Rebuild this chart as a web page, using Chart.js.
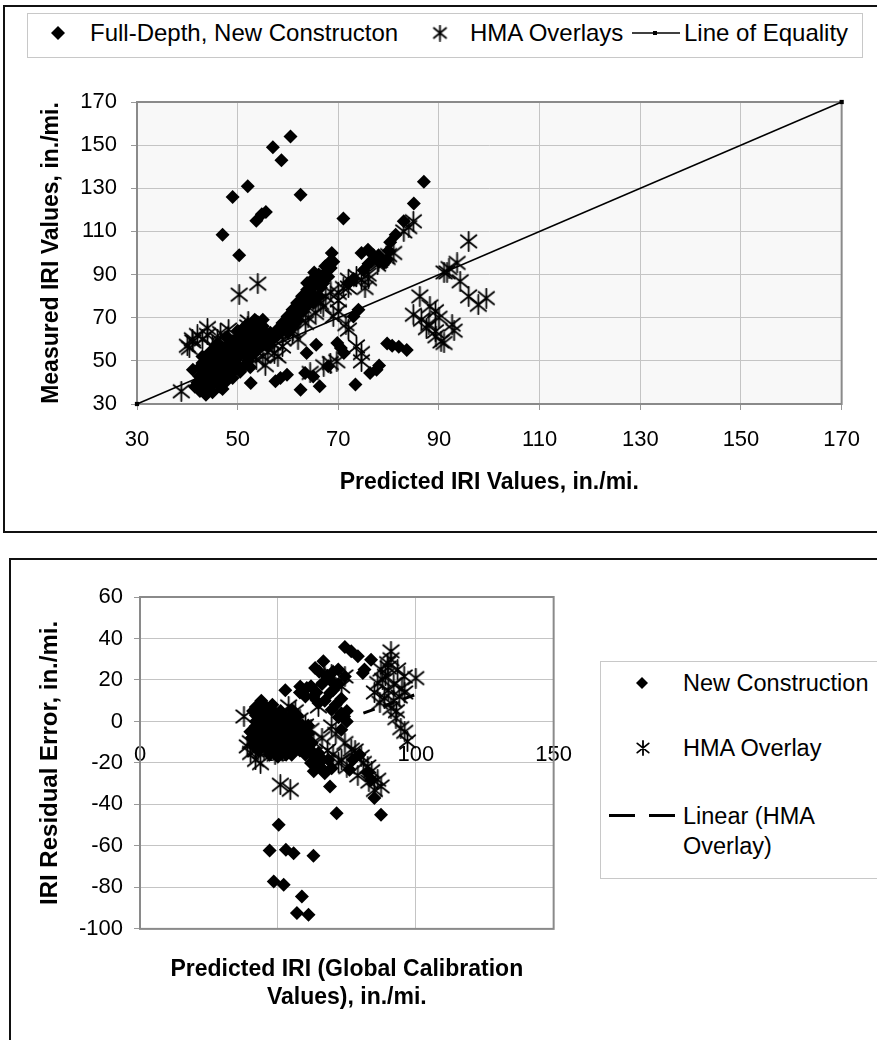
<!DOCTYPE html>
<html>
<head>
<meta charset="utf-8">
<script src="https://cdn.jsdelivr.net/npm/chart.js@4.4.0/dist/chart.umd.min.js"></script>
<style>
  body { margin:0; background:#fff; width:877px; height:1040px; position:relative; overflow:hidden;
         font-family:'Liberation Sans', Arial, sans-serif; }
  .frame { position:absolute; border:2px solid #111; box-sizing:border-box; }
  .legend { position:absolute; border:1px solid #c8c8c8; box-sizing:border-box; background:#fff; }
  .lg-text { position:absolute; font-size:24px; line-height:26px; white-space:nowrap; color:#000; }
  .lg-icon { position:absolute; }
  .wrap { position:absolute; }
</style>
</head>
<body>
<div class="frame" style="left:3px;top:5px;width:900px;height:528px"></div>
<div class="frame" style="left:9px;top:558px;width:900px;height:600px"></div>

<div class="legend" style="left:27px;top:13px;width:836px;height:45px"></div>
<canvas id="lgTop1" class="lg-icon" width="16" height="16" style="left:50px;top:25px"></canvas>
<span class="lg-text" style="left:90px;top:20px">Full-Depth, New Constructon</span>
<canvas id="lgTop2" class="lg-icon" width="18" height="18" style="left:431px;top:24px"></canvas>
<span class="lg-text" style="left:470px;top:20px">HMA Overlays</span>
<canvas id="lgTop3" class="lg-icon" width="48" height="10" style="left:632px;top:28px"></canvas>
<span class="lg-text" style="left:684px;top:20px">Line of Equality</span>

<div class="wrap" style="left:5px;top:60px;width:872px;height:470px"><canvas id="top"></canvas></div>

<div class="legend" style="left:600px;top:661px;width:290px;height:218px"></div>
<canvas id="lgBot1" class="lg-icon" width="16" height="16" style="left:634px;top:675px"></canvas>
<span class="lg-text" style="left:683px;top:670px;font-size:23.5px">New Construction</span>
<canvas id="lgBot2" class="lg-icon" width="18" height="18" style="left:634px;top:739px"></canvas>
<span class="lg-text" style="left:683px;top:735px;font-size:23.5px">HMA Overlay</span>
<canvas id="lgBot3" class="lg-icon" width="68" height="8" style="left:608px;top:812px"></canvas>
<span class="lg-text" style="left:683px;top:801px;font-size:23.5px;line-height:30px">Linear (HMA<br>Overlay)</span>

<div class="wrap" style="left:12px;top:561px;width:580px;height:479px"><canvas id="bottom"></canvas></div>

<script>
// top chart: measured vs predicted
const axisTicksTop = [30, 50, 70, 90, 110, 130, 150, 170];
const fullDepthPred = [60.5,57,58.7,52,49,62.5,54.8,55.6,53.7,47,50.3,71,68.7,87,85,83,81.4,80.3,75.9,74.6,77,78.1,79.1,79.7,
  68.1,67.4,66.1,65.2,64.8,63.8,63.8,62.8,61.8,60.9,59.9,58.9,57.9,64,65,66.5,62,61,74,73,79.7,80.7,82,83.6,73.4,76.3,77.6,78.1,
  71.1,69.8,70.5,65.6,63.7,63.4,65,66.3,62.5,68,52.6,57.5,59.8,58.5,43.7,45,46.3,47.6,42.4,41.1,43,45,46.9,48.8,50.8,52.7,53.4,
  54.7,50.2,48.3,55.3,54,44,45.5,47,49,51,52,44.5,46,48,50,51.5,53,55,56,44,46,48,42,50,52,53,49,47,45,51,55,56.5,57,43.5,47.5,
  49.5,52.5,45.5,41.5,
  42.5,43.5,44.5,45,46,46.5,47.5,48,48.5,49.5,50,50.5,51.5,52,53,53.5,54,54.5,55.5,56,43,44,45,46,47,48,49,50,51,52,53,54,55,
  44.5,45.5,46.5,47.5,48.5,49.5,50.5,51.5,52.5,42.5,43.5,
  58,59,60,60.5,61.5,62.5,63.5,64.5,65.5,66.5,67.5,68.5,69,60,61,62,63,64,65,66,67,68,72,73,75,76,78,80];
const fullDepthMeas = [154,149,143,131,126,127,118,119,115,108.5,99,116,100,133,123,114.7,108.5,105,101.5,100,99,96,95.4,97,
  95.4,93.8,90,91,87.6,86.1,83,80,76.8,73.7,70.6,67.6,64.5,78,80.5,84,72,70,73.7,70.6,58,57,56.5,55,39,44.4,45.9,47.8,
  53.6,58.3,56,57.5,53.6,44.4,42.8,38.2,36.6,47.5,39.7,40.5,43.6,42,34.3,39.7,41.3,42.8,42.8,45.9,49,52,55.2,58.3,61.4,64.5,69.1,
  64.5,52.1,47.5,58.3,55.2,45,48,50,53,56,58,54,58,61,64,66,62,61,57,38,44,46,40,48,50,53,42,37,35.5,60,66,63,60,41,52,
  56,55,45,38,
  47,44,47,43,47,50,46,49,52,50,55,58,53,61,58,60,63,58,63,60,52,50,55,53,56,55,59,61,63,67,66,68,69,
  40,42,38,40,44,46,45,48,47,36,38,
  62,65,68,71,74,77,80,83,86,89,91,93,96,63,66,69,73,76,77,80,86,89,86,88,92,95,99,101];
const hmaPred = [50.3,54,44,41.1,40.4,46.6,48.2,52.1,38.8,53.7,55,57.3,58.9,60.9,63.5,65.5,66.5,67.5,70,71,72,73.6,74.6,75.3,
  75.9,77.8,79.7,81,83,84.9,69,72,73.6,74.6,74.6,67.1,68.4,69.7,64.4,86.2,88.2,84.9,86.5,87.5,89.4,90.4,91,95.9,93.6,91.6,94.2,
  95.9,97.8,99.4,89.3,92.6,91,89.3,43,45,47.5,42,62,66,70,68.5,71.5,76,78,57,55.5,
  44,46,48,50,40,41,56,59,61,64,58,52,54,63,67,70,72,84,80,92,93,90,88];
const hmaMeas = [80.7,85.8,65.2,59,56,62.9,64.5,68.3,35.9,50.6,52.1,53.6,56.7,62.9,67.6,72.2,76.8,79.9,81.5,83.8,87.6,89.2,87.6,83.8,
  90,94.6,97.7,100,110,114.7,70.6,64.5,56.7,53.6,49.8,47.5,49,49.8,44.4,79.9,75.3,71.4,69.1,65.2,61.4,59,91,105.4,95.4,91,86.9,
  79.9,76,79.1,73,66.8,58.3,63.7,60,57,59,62,60,78,73,82,67,88,96,58,48,
  62,60,57,56,57,60,54,60,64,70,52,66,58,75,75,78,84,112,99,93,64,70,67];
const equalityX = [30, 170];
const equalityY = [30, 170];

// bottom chart: residual error vs predicted
const residTicksX = [0, 50, 100, 150];
const residTicksY = [-100, -80, -60, -40, -20, 0, 20, 40, 60];
const newConsPred = [74.3,76.6,79,81.4,83.8,80.8,66.5,63.5,65,67.7,69.5,71.9,74.3,52.7,58.1,60.5,62.9,64.7,68.9,69.5,74,44.3,43.1,
  45.5,47.9,50.3,52.7,55.1,45.5,41.9,49.1,52.7,55.1,57.5,59.9,62.3,64.7,68.3,64,66.5,69.5,76,77.2,79.6,82.6,83.8,85,87.4,71.3,68.9,
  50.3,47,52.9,55.7,62.9,48.5,52.1,58.7,56.9,61.1,46,47,44,42,48,50,51,53,54,56,58,60,61,57,49,46,44,51,53,55,40.5,43,47,50,53,
  72,70,73,75,72,
  41,42,43,44,45,46,47,48,49,50,51,52,53,54,55,56,57,58,59,60,61,62,63,42,44,46,48,50,52,54,56,58,40,41,43,45,47,49,51,60,62,66,67,63,65,
  58,60,62,64,66,68,70,67,71,73,75,73];
const newConsResid = [35.9,33.8,31.4,25,29.8,23.3,29,25.8,24,21.7,19.3,25,21.7,15,16.9,16.1,12.1,8.9,13.7,5.6,2.4,8.9,4.1,
  0.9,-2.3,-5.6,-8.8,-12,-5.6,-2.3,4.1,2.4,5.6,-0.9,-5.6,-10.4,-15.2,-18.5,-20.9,-23.3,-22.5,-23.3,-18.5,-16.1,-24.9,-28.1,-36.9,-45,-44.2,-31.3,
  -49.8,-62.2,-61.9,-63.5,-64.8,-77.1,-78.7,-84.4,-92.4,-93.2,2,-8,-3,3,0,2,-2,-4,0,2,-4,-8,-2,-8,-10,-12,-10,-14,-12,-16,-8,-14,-16,-17,-16,
  18,15,11,5,2,
  5,0,-6,6,3,-1,4,-5,1,-1,5,-6,1,-9,-3,-6,3,-10,-2,-12,-6,-14,-17,7,10,6,8,-9,-12,-14,-12,-14,-5,-11,-9,-9,-12,-13,-10,-16,-20,-18,-25,-24,-20,
  14,12,17,14,18,22,24,10,8,4,0,-4];
const hmaPred2 = [37.7,38.9,40.1,41.9,43.7,47.9,51.5,50.9,54.5,56.3,53.9,64.7,69.5,74.3,76.6,80.2,82.6,86.2,87.4,73.1,67,69.5,74.3,73.1,
  91,89.8,87.4,86.2,93.4,95.8,100,88.6,91,92.8,97,94.6,45,49,58,62,66,71,78,84,90,92,96,89,
  88,90,92,94,91,93,95,96,85,87,40,42,52,55,60,63,68,70,72,75,79,81,83,85];
const hmaResid = [2.4,-12,-15.2,-18.5,-20.1,-12,-13.6,-30.5,-32.9,4.9,7.3,7.3,-2.4,-10.4,-13.6,-16.9,-21.7,-28.1,-31.3,-18.5,21.7,22.5,21.7,16.9,
  33.8,28.1,25,18.5,25,21.7,20.9,11.3,6.4,1.6,-9.6,-3.2,-14,-16,1,-4,-8,-6,-14,-24,15,10,14,22,
  20,26,18,12,30,5,16,-5,14,9,-10,-14,-8,-6,-2,-10,-14,-16,-20,-22,-26,-20,-29,-33];
const trendX = [81, 100];
const trendY = [4, 13];

const pts = (xs, ys) => xs.map((x, i) => ({x: x, y: ys[i]}));

function asteriskImg(size, lw) {
  const c = document.createElement('canvas');
  c.width = c.height = size;
  const g = c.getContext('2d');
  const m = size / 2, r = size / 2 - 1;
  g.strokeStyle = '#000';
  g.lineWidth = lw;
  g.lineCap = 'round';
  g.beginPath();
  g.moveTo(m, m - r); g.lineTo(m, m + r);
  g.moveTo(m - r * 0.82, m - r * 0.66); g.lineTo(m + r * 0.82, m + r * 0.66);
  g.moveTo(m - r * 0.82, m + r * 0.66); g.lineTo(m + r * 0.82, m - r * 0.66);
  g.stroke();
  return c;
}

function drawDiamond(id, r) {
  const c = document.getElementById(id), g = c.getContext('2d');
  const m = c.width / 2;
  g.fillStyle = '#000';
  g.beginPath();
  g.moveTo(m, m - r); g.lineTo(m + r, m); g.lineTo(m, m + r); g.lineTo(m - r, m);
  g.closePath(); g.fill();
}
function drawAsteriskIcon(id, size) {
  const c = document.getElementById(id), g = c.getContext('2d');
  const img = asteriskImg(size, 1.8);
  g.drawImage(img, (c.width - size) / 2, (c.height - size) / 2);
}

drawDiamond('lgTop1', 7);
drawAsteriskIcon('lgTop2', 17);
(function () {
  const g = document.getElementById('lgTop3').getContext('2d');
  g.strokeStyle = '#000'; g.lineWidth = 1.5;
  g.beginPath(); g.moveTo(0, 5); g.lineTo(48, 5); g.stroke();
  g.fillStyle = '#000'; g.fillRect(21, 3, 4, 4);
})();
drawDiamond('lgBot1', 6);
drawAsteriskIcon('lgBot2', 16);
(function () {
  const g = document.getElementById('lgBot3').getContext('2d');
  g.fillStyle = '#000';
  g.fillRect(1, 2, 26, 3);
  g.fillRect(41, 2, 26, 3);
})();

const plotFrame = {
  id: 'plotFrame',
  beforeDraw(chart, args, opts) {
    const a = chart.chartArea, ctx = chart.ctx;
    ctx.save();
    ctx.fillStyle = opts.bg;
    ctx.fillRect(a.left, a.top, a.right - a.left, a.bottom - a.top);
    ctx.restore();
  },
  beforeDatasetsDraw(chart, args, opts) {
    const a = chart.chartArea, ctx = chart.ctx;
    ctx.save();
    ctx.strokeStyle = opts.color;
    ctx.lineWidth = 2;
    ctx.strokeRect(a.left, a.top, a.right - a.left, a.bottom - a.top);
    ctx.restore();
  }
};

const tickFont = {family: "'Liberation Sans', Arial, sans-serif", size: 22};
const titleFont = {family: "'Liberation Sans', Arial, sans-serif", size: 23, weight: 'bold'};

new Chart(document.getElementById('top'), {
  type: 'scatter',
  data: {
    datasets: [
      {
        type: 'line', label: 'Line of Equality', data: pts(equalityX, equalityY),
        borderColor: '#000', borderWidth: 1.5, pointStyle: 'rect', pointRadius: 3,
        pointBackgroundColor: '#000', pointBorderWidth: 0, clip: false, order: 0
      },
      {
        label: 'HMA Overlays', data: pts(hmaPred, hmaMeas),
        pointStyle: asteriskImg(21, 1.8), order: 1
      },
      {
        label: 'Full-Depth, New Constructon', data: pts(fullDepthPred, fullDepthMeas),
        pointStyle: 'rectRot', pointRadius: 7, backgroundColor: '#000', borderColor: '#000',
        borderWidth: 0, order: 2
      }
    ]
  },
  options: {
    responsive: true, maintainAspectRatio: false, animation: false,
    layout: {padding: {top: 42, right: 32, bottom: 0, left: 0}},
    plugins: {
      legend: {display: false}, tooltip: {enabled: false},
      plotFrame: {bg: '#f8f8f8', color: '#8a8a8a'}
    },
    scales: {
      x: {
        type: 'linear', min: 30, max: 170,
        afterBuildTicks: s => { s.ticks = axisTicksTop.map(v => ({value: v})); },
        afterFit: s => { s.height = 126; },
        grid: {color: '#c4c4c4', tickColor: '#999', tickLength: 6},
        border: {display: false},
        ticks: {font: tickFont, color: '#000', padding: 17, maxRotation: 0},
        title: {display: true, text: 'Predicted IRI Values, in./mi.', font: titleFont, color: '#000',
                padding: {top: 0, bottom: 34}}
      },
      y: {
        type: 'linear', min: 30, max: 170,
        afterBuildTicks: s => { s.ticks = axisTicksTop.map(v => ({value: v})); },
        afterFit: s => { s.width = 132; },
        grid: {color: '#c4c4c4', tickColor: '#999', tickLength: 6},
        border: {display: false},
        ticks: {font: tickFont, color: '#000', padding: 14},
        title: {display: true, text: 'Measured IRI Values, in./mi.', font: titleFont, color: '#000',
                padding: {top: 33, bottom: 0}}
      }
    }
  },
  plugins: [plotFrame]
});

new Chart(document.getElementById('bottom'), {
  type: 'scatter',
  data: {
    datasets: [
      {
        type: 'line', label: 'Linear (HMA Overlay)', data: pts(trendX, trendY),
        borderColor: '#000', borderWidth: 3, borderDash: [12, 9], pointRadius: 0, order: 0
      },
      {
        label: 'HMA Overlay', data: pts(hmaPred2, hmaResid),
        pointStyle: asteriskImg(21, 1.8), order: 1
      },
      {
        label: 'New Construction', data: pts(newConsPred, newConsResid),
        pointStyle: 'rectRot', pointRadius: 7, backgroundColor: '#000', borderColor: '#000',
        borderWidth: 0, order: 2
      }
    ]
  },
  options: {
    responsive: true, maintainAspectRatio: false, animation: false,
    layout: {padding: {top: 36, right: 34, bottom: 28, left: 0}},
    plugins: {
      legend: {display: false}, tooltip: {enabled: false},
      plotFrame: {bg: '#ffffff', color: '#8a8a8a'},
      title: {
        display: true, position: 'bottom', fullSize: false,
        text: ['Predicted IRI (Global Calibration', 'Values), in./mi.'],
        font: {family: "'Liberation Sans', Arial, sans-serif", size: 23, weight: 'bold', lineHeight: 1.22},
        color: '#000', padding: {top: 27, bottom: 0}
      }
    },
    scales: {
      x: {
        type: 'linear', min: 0, max: 150, position: {y: 0},
        afterBuildTicks: s => { s.ticks = residTicksX.map(v => ({value: v})); },
        grid: {color: '#c4c4c4', drawTicks: false},
        border: {display: false},
        ticks: {font: tickFont, color: '#000', padding: 20, maxRotation: 0}
      },
      y: {
        type: 'linear', min: -100, max: 60,
        afterBuildTicks: s => { s.ticks = residTicksY.map(v => ({value: v})); },
        afterFit: s => { s.width = 128; },
        grid: {color: '#c4c4c4', tickColor: '#999', tickLength: 6},
        border: {display: false},
        ticks: {font: tickFont, color: '#000', padding: 11},
        title: {display: true, text: 'IRI Residual Error, in./mi.', font: {family: "'Liberation Sans', Arial, sans-serif", size: 24, weight: 'bold'},
                color: '#000', padding: {top: 24, bottom: 0}}
      }
    }
  },
  plugins: [plotFrame]
});
</script>
</body>
</html>
